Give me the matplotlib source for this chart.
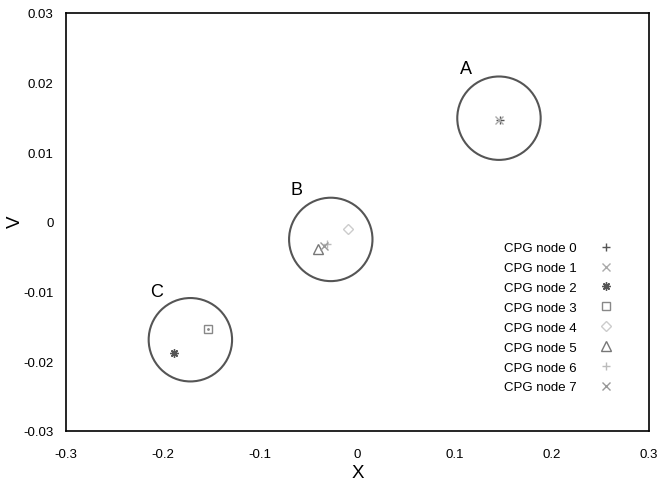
import matplotlib
matplotlib.use("Agg")
import matplotlib.pyplot as plt
from matplotlib.patches import Ellipse

plt.rcParams['font.family'] = ['Liberation Sans', 'DejaVu Sans']

# ---- data ----
node_labels = [f"CPG node {i}" for i in range(8)]
node_x = [0.1462, 0.1458, -0.1885, -0.1536, -0.0101, -0.0404, -0.0310, -0.0345]
node_y = [0.0147, 0.0147, -0.0188, -0.0154, -0.0010, -0.0039, -0.0031, -0.0034]

cluster_labels = ["A", "B", "C"]
cluster_cx = [0.1456, -0.0275, -0.1720]
cluster_cy = [0.0149, -0.0025, -0.0169]
cluster_lx = [0.1117, -0.0623, -0.2064]
cluster_ly = [0.0221, 0.0047, -0.0100]

xticks = [-0.3, -0.2, -0.1, 0, 0.1, 0.2, 0.3]
yticks = [-0.03, -0.02, -0.01, 0, 0.01, 0.02, 0.03]
xticklabels = ["-0.3", "-0.2", "-0.1", "0", "0.1", "0.2", "0.3"]
yticklabels = ["-0.03", "-0.02", "-0.01", "0", "0.01", "0.02", "0.03"]

# ---- styles ----
markers = ['+', 'x', (8, 2, 0), 's', 'D', '^', '+', 'x']
colors = ['#555555', '#aaaaaa', '#555555', '#888888', '#cccccc', '#777777', '#bbbbbb', '#999999']
msizes = [6, 6, 6, 6, 5, 6.5, 6, 6]

fig = plt.figure(figsize=(6.59, 4.81), dpi=100)
ax = fig.add_axes([66/659, 1-432/481, (649-66)/659, (432-14)/481])
ax.set_xlim(-0.3, 0.3)
ax.set_ylim(-0.03, 0.03)

# circles (fixed pixel radius)
rad_px = 41.7
px_per_x = (649-66)/0.6
px_per_y = (432-14)/0.06
for cx, cy in zip(cluster_cx, cluster_cy):
    ax.add_patch(Ellipse((cx, cy), 2*rad_px/px_per_x, 2*rad_px/px_per_y,
                         fill=False, edgecolor='#555555', linewidth=1.5))
for lab, lx, ly in zip(cluster_labels, cluster_lx, cluster_ly):
    ax.text(lx, ly, lab, fontsize=13, ha='center', va='center', color='black')

handles = []
for i in range(8):
    filled = markers[i] in ('+', 'x') or isinstance(markers[i], tuple)
    h, = ax.plot([node_x[i]], [node_y[i]], linestyle='none', marker=markers[i],
                 markersize=msizes[i], color=colors[i],
                 markerfacecolor=colors[i] if filled else 'none',
                 markeredgewidth=1.0, label=node_labels[i])
    if i == 3:
        ax.plot([node_x[i]], [node_y[i]], linestyle='none', marker='.',
                markersize=2, color=colors[i])
    handles.append(h)

ax.legend(handles=handles, loc='upper left', bbox_to_anchor=(504/659, 1-243/481),
          bbox_transform=fig.transFigure, frameon=False, markerfirst=False,
          fontsize=9.5, handlelength=1.0, handletextpad=1.75, labelspacing=0.58,
          borderpad=0, borderaxespad=0)

ax.set_xticks(xticks)
ax.set_xticklabels(xticklabels)
ax.set_yticks(yticks)
ax.set_yticklabels(yticklabels)
ax.tick_params(length=0, labelsize=9.5)
ax.tick_params(axis='x', pad=12)
ax.tick_params(axis='y', pad=9)
for s in ax.spines.values():
    s.set_linewidth(1.2)
    s.set_color('black')

ax.set_xlabel('X', fontsize=13.5)
ax.xaxis.set_label_coords(0.5, (432-473.5)/418)
ax.xaxis.label.set_verticalalignment('center')
ax.set_ylabel('V', fontsize=13.5)
ax.yaxis.set_label_coords((15-66)/583, (432-222)/418)
ax.yaxis.label.set_verticalalignment('center')

fig.savefig('out.png', dpi=100)
